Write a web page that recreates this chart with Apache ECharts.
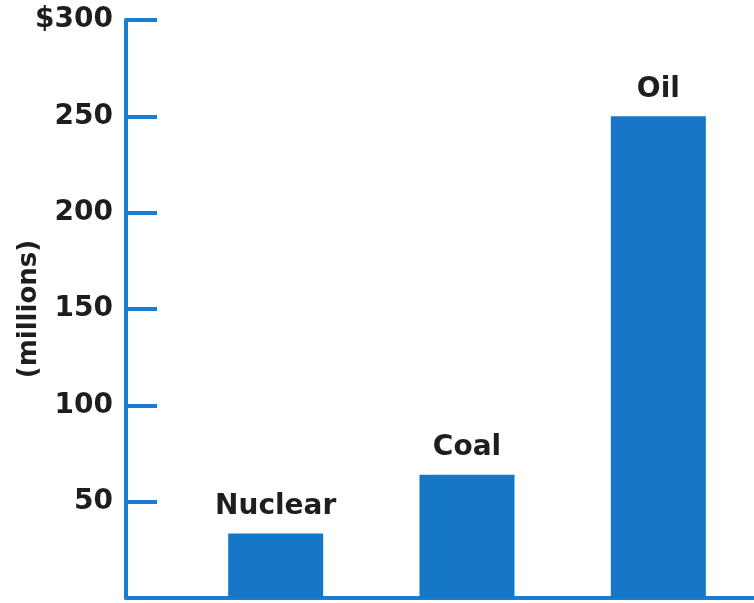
<!DOCTYPE html>
<html>
<head>
<meta charset="utf-8">
<script src="https://cdn.jsdelivr.net/npm/echarts@6/dist/echarts.min.js"></script>
<style>
html,body{margin:0;padding:0;background:#fff;}
#c{width:754px;height:603px;}
</style>
</head>
<body>
<div id="c"></div>
<script>
const categories = ['Nuclear', 'Coal', 'Oil'];
const costs = [33.5, 64, 250];
const yTicks = [0, 50, 100, 150, 200, 250, 300];

const blue = '#1677c8';
const axisBlue = '#1a7dd0';
const font = 'DejaVu Sans';

const chart = echarts.init(document.getElementById('c'));
chart.setOption({
  backgroundColor: '#ffffff',
  animation: false,
  grid: [
    { left: 126, right: 0, top: 20, bottom: 5, outerBoundsMode: 'none', containLabel: false },
    { left: 180, right: 0, top: 20, bottom: 5, outerBoundsMode: 'none', containLabel: false }
  ],
  xAxis: [
    {
      gridIndex: 0, type: 'value', min: 0, max: 1,
      axisLine: { show: true, onZero: false, lineStyle: { color: axisBlue, width: 4 } },
      axisTick: { show: false }, axisLabel: { show: false }, splitLine: { show: false }
    },
    {
      gridIndex: 1, type: 'category', data: categories,
      axisLine: { show: false }, axisTick: { show: false }, axisLabel: { show: false }
    }
  ],
  yAxis: [
    {
      gridIndex: 0, type: 'value',
      min: yTicks[0], max: yTicks[yTicks.length - 1], interval: 50,
      axisLine: { show: true, lineStyle: { color: axisBlue, width: 4 } },
      axisTick: { show: true, inside: true, length: 31, lineStyle: { color: axisBlue, width: 4 } },
      splitLine: { show: false },
      axisLabel: {
        margin: 13, color: '#1e1e1e', fontFamily: font, fontWeight: 'bold', fontSize: 28,
        formatter: function (v) { return v === 0 ? '' : (v === 300 ? '$' + v : String(v)); }
      },
      name: '(millions)', nameLocation: 'middle', nameRotate: 90, nameGap: 84,
      nameMoveOverlap: false,
      nameTextStyle: { color: '#1e1e1e', fontFamily: font, fontWeight: 'bold', fontSize: 26 }
    },
    {
      gridIndex: 1, type: 'value', min: 0, max: 300, show: false
    }
  ],
  series: [{
    type: 'bar', xAxisIndex: 1, yAxisIndex: 1,
    data: costs, barWidth: 95,
    itemStyle: { color: blue },
    label: {
      show: true, position: 'top', distance: 13,
      formatter: function (p) { return p.name; },
      color: '#1e1e1e', fontFamily: font, fontWeight: 'bold', fontSize: 28
    }
  }]
});
</script>
</body>
</html>
